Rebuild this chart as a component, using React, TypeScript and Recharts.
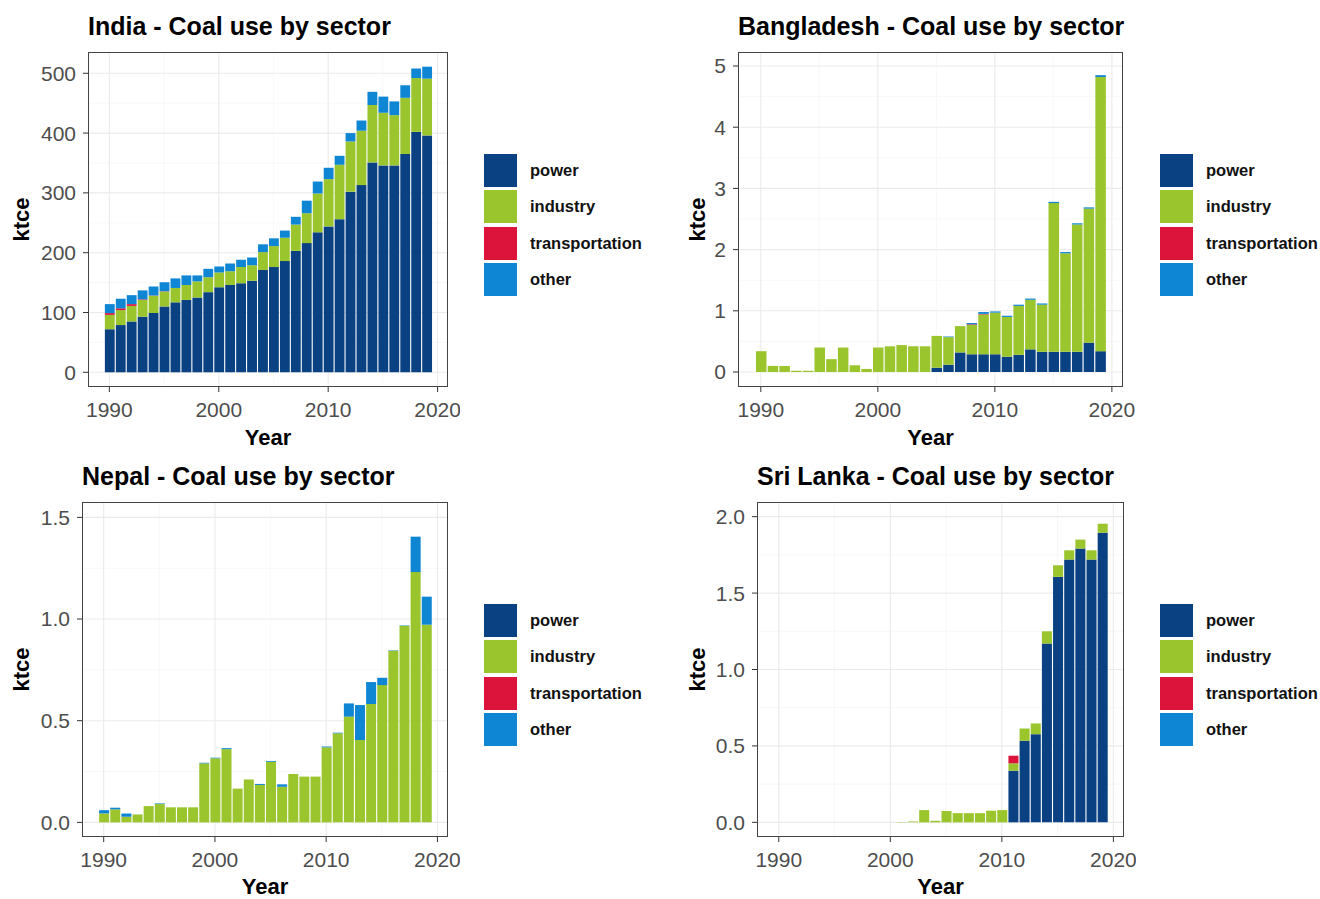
import React from "react";
import { BarChart, Bar, XAxis, YAxis, CartesianGrid } from "recharts";

const YEARS = [
  1990, 1991, 1992, 1993, 1994, 1995, 1996, 1997, 1998, 1999,
  2000, 2001, 2002, 2003, 2004, 2005, 2006, 2007, 2008, 2009,
  2010, 2011, 2012, 2013, 2014, 2015, 2016, 2017, 2018, 2019,
];
const X_TICKS = [1990, 2000, 2010, 2020];
const X_MINOR = [1995, 2005, 2015];

// India
const indiaPower = [72, 79, 85, 93, 99, 110, 117, 121, 125, 134, 142, 146, 149, 153, 171, 176, 186, 203, 216, 234, 244, 256, 302, 313, 351, 346, 346, 365, 402, 396];
const indiaIndustry = [24, 25, 26, 28, 29, 25, 24, 25, 27, 25, 25, 23, 27, 26, 30, 35, 39, 44, 50, 65, 79, 91, 84, 91, 96, 88, 84, 94, 90, 95];
const indiaTransport = [3, 3, 3, 1, 0.5, 0.5, 0, 0, 0, 0, 0, 0, 0, 0, 0, 0, 0, 0, 0, 0, 0, 0, 0, 0, 0, 0, 0, 0, 0, 0];
const indiaOther = [15, 16, 15, 15, 15, 15, 16, 16, 10, 14, 10, 13, 12, 13, 13, 13, 12, 13, 21, 20, 19, 15, 14, 17, 22, 27, 23, 21, 16, 20];

// Bangladesh
const bdPower = [0, 0, 0, 0, 0, 0, 0, 0, 0, 0, 0, 0, 0, 0, 0, 0.07, 0.12, 0.32, 0.29, 0.29, 0.29, 0.25, 0.28, 0.37, 0.33, 0.33, 0.33, 0.33, 0.48, 0.34];
const bdIndustry = [0.34, 0.1, 0.1, 0.02, 0.02, 0.4, 0.21, 0.4, 0.11, 0.05, 0.4, 0.42, 0.44, 0.42, 0.42, 0.52, 0.45, 0.43, 0.48, 0.65, 0.68, 0.65, 0.8, 0.81, 0.77, 2.43, 1.61, 2.08, 2.19, 4.48];
const bdTransport = [0, 0, 0, 0, 0, 0, 0, 0, 0, 0, 0, 0, 0, 0, 0, 0, 0, 0, 0.01, 0.01, 0, 0, 0, 0, 0, 0, 0, 0, 0, 0];
const bdOther = [0, 0, 0, 0, 0, 0, 0, 0, 0, 0, 0, 0, 0, 0, 0, 0, 0.01, 0, 0.02, 0.03, 0.02, 0.02, 0.02, 0.02, 0.02, 0.02, 0.02, 0.02, 0.02, 0.03];

// Nepal
const npPower = [0, 0, 0, 0, 0, 0, 0, 0, 0, 0, 0, 0, 0, 0, 0, 0, 0, 0, 0, 0, 0, 0, 0, 0, 0, 0, 0, 0, 0, 0];
const npIndustry = [0.044, 0.064, 0.028, 0.039, 0.08, 0.09, 0.074, 0.074, 0.074, 0.29, 0.315, 0.36, 0.166, 0.211, 0.184, 0.298, 0.175, 0.238, 0.225, 0.225, 0.369, 0.438, 0.52, 0.405, 0.582, 0.675, 0.844, 0.967, 1.231, 0.972];
const npTransport = [0, 0, 0, 0, 0, 0, 0, 0, 0, 0, 0, 0, 0, 0, 0, 0, 0, 0, 0, 0, 0, 0, 0, 0, 0, 0, 0, 0, 0, 0];
const npOther = [0.016, 0.008, 0.016, 0, 0, 0.003, 0, 0, 0, 0.003, 0.003, 0.005, 0, 0, 0.005, 0.004, 0.012, 0, 0, 0, 0.004, 0.003, 0.065, 0.172, 0.108, 0.036, 0.002, 0.002, 0.174, 0.138];

// Sri Lanka
const lkPower = [0, 0, 0, 0, 0, 0, 0, 0, 0, 0, 0, 0, 0, 0, 0, 0, 0, 0, 0, 0, 0, 0.338, 0.534, 0.577, 1.17, 1.606, 1.719, 1.791, 1.719, 1.895];
const lkIndustry = [0, 0, 0, 0, 0, 0, 0, 0, 0, 0, 0, 0.002, 0.005, 0.08, 0.01, 0.074, 0.06, 0.06, 0.06, 0.076, 0.08, 0.048, 0.08, 0.07, 0.08, 0.076, 0.061, 0.059, 0.061, 0.059];
const lkTransport = [0, 0, 0, 0, 0, 0, 0, 0, 0, 0, 0, 0, 0, 0, 0, 0, 0, 0, 0, 0, 0, 0.05, 0, 0, 0, 0, 0, 0, 0, 0];
const lkOther = [0, 0, 0, 0, 0, 0, 0, 0, 0, 0, 0, 0, 0, 0, 0, 0, 0, 0, 0, 0, 0, 0, 0, 0, 0, 0, 0, 0, 0, 0];

const SECTORS = ["power", "industry", "transportation", "other"];
const COLORS: Record<string, string> = {
  power: "#0A4182",
  industry: "#9BC52D",
  transportation: "#DC143C",
  other: "#0E86D4",
};

const buildRows = (power: number[], industry: number[], transport: number[], other: number[]) =>
  YEARS.map((year, i) => ({
    year,
    power: power[i],
    industry: industry[i],
    transportation: transport[i],
    other: other[i],
  }));

const FONT = "'Liberation Sans', Arial, sans-serif";

interface PanelProps {
  title: string;
  rows: ReturnType<typeof buildRows>;
  left: number;
  top: number;
  width: number;
  height: number;
  axisWidth: number;
  yDomain: [number, number];
  yTicks: number[];
  yMinor: number[];
  decimals: number;
  labelOffset: number;
  legendLeft: number;
}

function Panel(p: PanelProps) {
  const plotW = p.width - p.axisWidth - 12;
  const plotH = 335;
  const plotLeft = p.left + p.axisWidth;
  const plotTop = p.top + 52;
  const barSize = (plotW / 32.9) * 0.9;

  return (
    <>
      <div
        style={{
          position: "absolute",
          left: plotLeft,
          top: p.top + 14,
          fontSize: 25,
          fontWeight: "bold",
          lineHeight: "25px",
          whiteSpace: "nowrap",
          color: "#000",
        }}
      >
        {p.title}
      </div>
      <div style={{ position: "absolute", left: p.left, top: p.top }}>
        <BarChart
          width={p.width}
          height={p.height}
          data={p.rows}
          margin={{ top: 52, right: 12, bottom: 0, left: 0 }}
        >
          <CartesianGrid
            horizontalValues={p.yMinor}
            verticalValues={X_MINOR}
            stroke="#F3F3F3"
            strokeWidth={0.6}
          />
          <CartesianGrid
            horizontalValues={p.yTicks}
            verticalValues={X_TICKS}
            stroke="#EBEBEB"
            strokeWidth={1.1}
          />
          <XAxis
            dataKey="year"
            type="number"
            domain={[1988.05, 2020.95]}
            ticks={X_TICKS}
            allowDataOverflow
            height={p.height - 52 - plotH}
            axisLine={false}
            tickSize={5}
            tickMargin={10}
            tickLine={{ stroke: "#333333" }}
            tick={{ fill: "#4D4D4D", fontSize: 21 }}
            label={{
              value: "Year",
              position: "insideBottom",
              offset: 5,
              fontSize: 22,
              fontWeight: "bold",
              fill: "#000",
            }}
          />
          <YAxis
            type="number"
            domain={p.yDomain}
            ticks={p.yTicks}
            allowDataOverflow
            width={p.axisWidth}
            axisLine={false}
            tickSize={5}
            tickMargin={7}
            tickLine={{ stroke: "#333333" }}
            tick={{ fill: "#4D4D4D", fontSize: 21 }}
            tickFormatter={(v: number) => v.toFixed(p.decimals)}
            label={{
              value: "ktce",
              angle: -90,
              position: "insideLeft",
              offset: p.labelOffset,
              fontSize: 22,
              fontWeight: "bold",
              fill: "#000",
              style: { textAnchor: "middle" },
            }}
          />
          {SECTORS.map((s) => (
            <Bar
              key={s}
              dataKey={s}
              stackId="a"
              fill={COLORS[s]}
              barSize={barSize}
              isAnimationActive={false}
            />
          ))}
        </BarChart>
      </div>
      <div
        style={{
          position: "absolute",
          left: plotLeft,
          top: plotTop,
          width: plotW,
          height: plotH,
          border: "1px solid #444",
          boxSizing: "border-box",
          pointerEvents: "none",
        }}
      />
      {SECTORS.map((s, i) => (
        <div
          key={s}
          style={{
            position: "absolute",
            left: p.legendLeft,
            top: p.top + 154 + i * 36.4,
            height: 33,
            display: "flex",
            alignItems: "center",
          }}
        >
          <div style={{ width: 33, height: 33, background: COLORS[s] }} />
          <span style={{ marginLeft: 13, fontSize: 16.5, fontWeight: "bold", color: "#111" }}>{s}</span>
        </div>
      ))}
    </>
  );
}

export default function App() {
  return (
    <div
      style={{
        position: "absolute",
        left: 0,
        top: 0,
        width: 1320,
        height: 899,
        background: "#fff",
        fontFamily: FONT,
        overflow: "hidden",
      }}
    >
      <Panel
        title="India - Coal use by sector"
        rows={buildRows(indiaPower, indiaIndustry, indiaTransport, indiaOther)}
        left={0}
        top={0}
        width={460}
        height={450}
        axisWidth={88}
        yDomain={[-24.6, 535.6]}
        yTicks={[0, 100, 200, 300, 400, 500]}
        yMinor={[50, 150, 250, 350, 450]}
        decimals={0}
        labelOffset={21}
        legendLeft={484}
      />
      <Panel
        title="Bangladesh - Coal use by sector"
        rows={buildRows(bdPower, bdIndustry, bdTransport, bdOther)}
        left={660}
        top={0}
        width={475}
        height={450}
        axisWidth={78}
        yDomain={[-0.245, 5.229]}
        yTicks={[0, 1, 2, 3, 4, 5]}
        yMinor={[0.5, 1.5, 2.5, 3.5, 4.5]}
        decimals={0}
        labelOffset={37}
        legendLeft={1160}
      />
      <Panel
        title="Nepal - Coal use by sector"
        rows={buildRows(npPower, npIndustry, npTransport, npOther)}
        left={0}
        top={450}
        width={460}
        height={449}
        axisWidth={82}
        yDomain={[-0.072, 1.5755]}
        yTicks={[0, 0.5, 1, 1.5]}
        yMinor={[0.25, 0.75, 1.25]}
        decimals={1}
        labelOffset={21}
        legendLeft={484}
      />
      <Panel
        title="Sri Lanka - Coal use by sector"
        rows={buildRows(lkPower, lkIndustry, lkTransport, lkOther)}
        left={660}
        top={450}
        width={476}
        height={449}
        axisWidth={97}
        yDomain={[-0.096, 2.096]}
        yTicks={[0, 0.5, 1, 1.5, 2]}
        yMinor={[0.25, 0.75, 1.25, 1.75]}
        decimals={1}
        labelOffset={37}
        legendLeft={1160}
      />
    </div>
  );
}
